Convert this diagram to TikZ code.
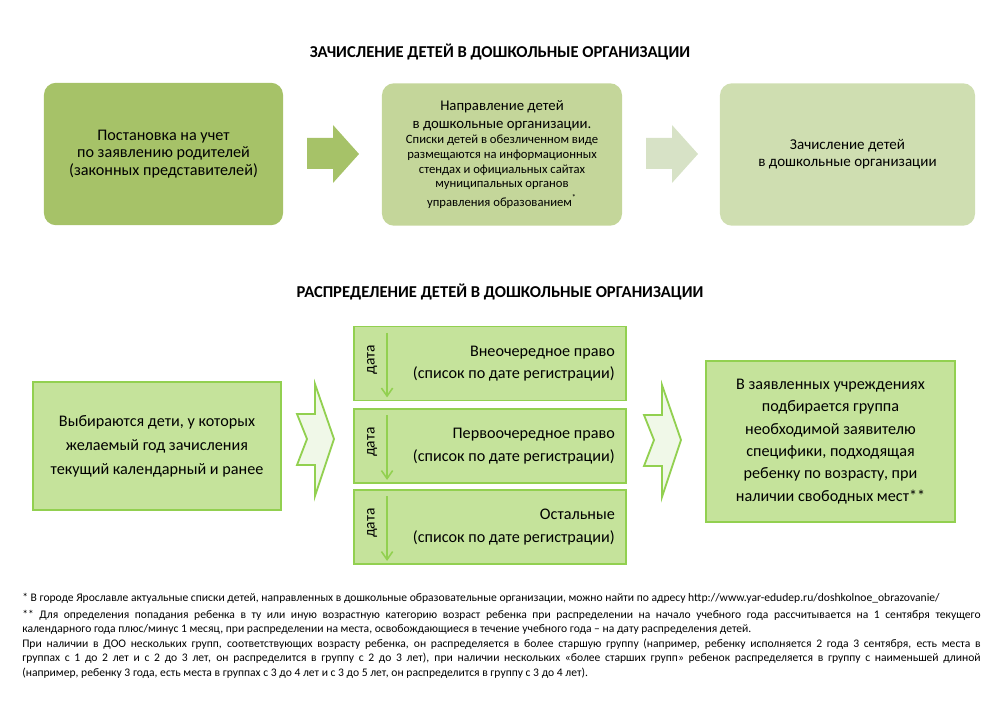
\documentclass[tikz,border=0pt]{standalone}
\usepackage{fontspec}
\setmainfont{Carlito}
\usepackage{xcolor}
\usetikzlibrary{arrows.meta,positioning}

\definecolor{olivedark}{RGB}{166,194,104}
\definecolor{olivemid}{RGB}{196,214,154}
\definecolor{olivelight}{RGB}{207,222,177}
\definecolor{olivepale}{RGB}{215,226,198}
\definecolor{grline}{RGB}{146,208,80}
\definecolor{grfill}{RGB}{197,227,155}
\definecolor{grpale}{RGB}{240,248,232}

\begin{document}
\begin{tikzpicture}[
    x=0.025cm, y=-0.025cm,
    font=\fontsize{11.5}{13}\selectfont,
    head/.style={font=\bfseries\fontsize{11.8}{13}\selectfont},
    stepbox/.style={rounded corners=0.3cm, inner sep=0pt, align=flush center, minimum height=3.56cm},
    greenbox/.style={draw=grline, fill=grfill, line width=1.3pt, inner sep=0pt},
    listbox/.style={greenbox, text width=6.24cm, inner xsep=0.28cm, align=flush right, minimum height=1.85cm,
        font=\fontsize{11.5}{16}\selectfont},
    datearrow/.style={draw=grline, line width=1.1pt, -{Straight Barb[length=2mm,width=2.8mm]}},
    blockarrow/.pic={\fill (0,0) -- (-26,-29) -- (-26,-16) -- (-52,-16) -- (-52,15) -- (-26,15) -- (-26,29) -- cycle;},
    notcharrow/.pic={\draw[draw=grline, fill=grpale, line width=1.3pt, line join=miter]
        (0,0) -- (-19,-55) -- (-19,-25) -- (-37,-25) -- (-27,0) -- (-37,26) -- (-19,26) -- (-19,57) -- cycle;}
]
\useasboundingbox (0,0) rectangle (1000,707);

% enrolment
\node[head] (title1) at (500,52) {ЗАЧИСЛЕНИЕ ДЕТЕЙ В ДОШКОЛЬНЫЕ ОРГАНИЗАЦИИ};
\node[stepbox, fill=olivedark, text width=5.975cm, font=\fontsize{11.5}{12.6}\selectfont] (reg) at (163.5,154)
    {Постановка на учет\\по заявлению родителей\\(законных представителей)};
\node[stepbox, fill=olivemid, text width=6cm] (dir) at (502,154.5)
    {{\fontsize{10.5}{12.5}\selectfont Направление детей\\в дошкольные организации.\par}
     \fontsize{9}{10.6}\selectfont Списки детей в обезличенном виде\\размещаются на информационных\\стендах и официальных сайтах\\муниципальных органов\\управления образованием\smash{\textsuperscript{*}}};
\node[stepbox, fill=olivelight, text width=6.375cm, font=\fontsize{10.7}{12.2}\selectfont] (enr) at (847.5,154.5)
    {Зачисление детей\\в дошкольные организации};
\pic[olivedark] at (359,154) {blockarrow};
\pic[olivepale] at (698,154) {blockarrow};

% distribution
\node[head] (title2) at (500,292) {РАСПРЕДЕЛЕНИЕ ДЕТЕЙ В ДОШКОЛЬНЫЕ ОРГАНИЗАЦИИ};
\node[greenbox, text width=6.2cm, minimum height=3.2cm, align=flush center,
    font=\fontsize{11.5}{17}\selectfont] (sel) at (157,446)
    {Выбираются дети, у которых\\желаемый год зачисления\\текущий календарный и ранее};
\node[listbox] (extra) at (490,363.5) {\rule{0pt}{0.12cm}Внеочередное право\\(список по дате регистрации)};
\node[listbox] (first) at (490,446) {\rule{0pt}{0.12cm}Первоочередное право\\(список по дате регистрации)};
\node[listbox] (rest) at (490,527) {\rule{0pt}{0.12cm}Остальные\\(список по дате регистрации)};
\node[greenbox, text width=6.225cm, minimum height=4.025cm, align=flush center,
    font=\fontsize{11.5}{15.9}\selectfont] (grp) at (830.5,441.5)
    {В заявленных учреждениях\\подбирается группа\\необходимой заявителю\\специфики, подходящая\\ребенку по возрасту, при\\наличии свободных мест**};

\foreach \b in {extra,first,rest}{
  \node[rotate=90, font=\fontsize{11}{12}\selectfont] (d\b) at ([xshift=0.475cm,yshift=0.1cm]\b.west) {дата};
  \draw[datearrow] ([xshift=0.85cm,yshift=-0.18cm]\b.north west) -- ([xshift=0.85cm,yshift=0.1cm]\b.south west);
}
\pic at (334,439) {notcharrow};
\pic at (681,440) {notcharrow};

% notes
\node[anchor=north west, text width=23.95cm, align=justify, inner sep=0pt,
    font=\fontsize{8.25}{10.3}\selectfont] (notes) at (22,593)
    {* В городе Ярославле актуальные списки детей, направленных в дошкольные образовательные организации, можно найти по адресу http://www.yar-edudep.ru/doshkolnoe\_obrazovanie/\par
     \vspace{1.5pt}
     ** Для определения попадания ребенка в ту или иную возрастную категорию возраст ребенка при распределении на начало учебного года рассчитывается на 1 сентября текущего\linebreak
     календарного года плюс/минус 1 месяц, при распределении на места, освобождающиеся в течение учебного года – на дату распределения детей.\par
     При наличии в ДОО нескольких групп, соответствующих возрасту ребенка, он распределяется в более старшую группу (например, ребенку исполняется 2 года 3 сентября, есть места в\linebreak
     группах с 1 до 2 лет и с 2 до 3 лет, он распределится в группу с 2 до 3 лет), при наличии нескольких «более старших групп» ребенок распределяется в группу с наименьшей длиной\linebreak
     (например, ребенку 3 года, есть места в группах с 3 до 4 лет и с 3 до 5 лет, он распределится в группу с 3 до 4 лет).};
\end{tikzpicture}
\end{document}
